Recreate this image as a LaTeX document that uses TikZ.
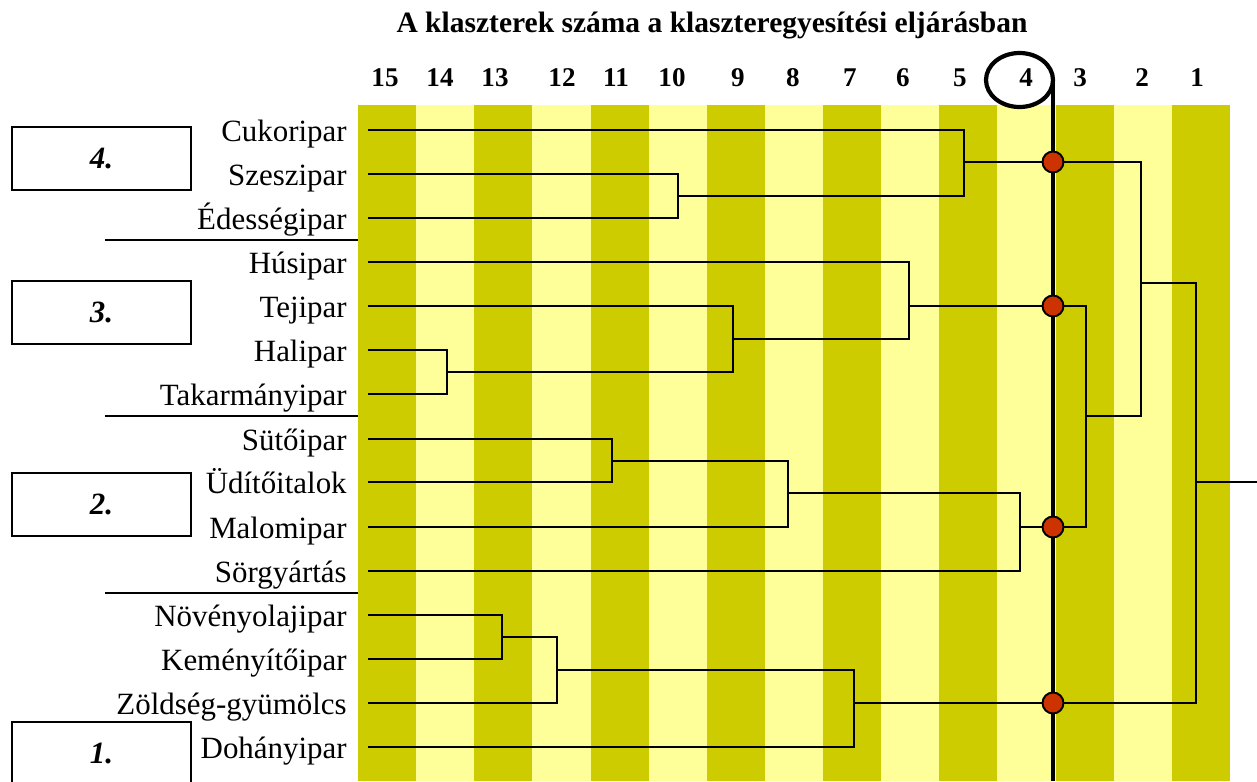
\documentclass[tikz,border=0pt]{standalone}
\usepackage{fontspec}
\setmainfont{Liberation Serif}
\usetikzlibrary{shapes.geometric}
\definecolor{stripedark}{RGB}{204,204,0}
\definecolor{stripelight}{RGB}{255,255,153}
\definecolor{dotred}{RGB}{204,51,0}
\tikzset{
  tree/.style={line width=1.3pt},
  cutline/.style={line width=2.4pt},
  leaflabel/.style={anchor=base east, inner sep=0pt, font=\fontsize{17.6}{20}\selectfont},
  colnum/.style={anchor=base, inner sep=0pt, font=\fontsize{15.4}{18}\selectfont\bfseries},
  groupbox/.style={draw, line width=1pt, minimum width=3.58cm, minimum height=1.26cm,
    inner sep=0pt, font=\fontsize{17.6}{20}\selectfont\bfseries\itshape},
  reddot/.style={circle, draw, fill=dotred, line width=1.1pt, minimum size=0.42cm, inner sep=0pt},
  divider/.style={line width=0.6pt}
}

\begin{document}
\begin{tikzpicture}[x=0.02cm, y=-0.02cm]
    \useasboundingbox (0,0) rectangle (1257,781);
    \clip (0,0) rectangle (1257,781);
    % Stripes
    \foreach \i in {0,...,14} {
        \ifodd\i \def\stripecol{stripelight}\else \def\stripecol{stripedark}\fi
        \fill[\stripecol] (358+58.13*\i,105) rectangle (358.5+58.13*\i+58.13,781);
    }
    % Title and cluster numbers
    \node[anchor=base, inner sep=0pt, font=\fontsize{16.8}{19}\selectfont\bfseries] (title) at (712,32)
        {A klaszterek száma a klaszteregyesítési eljárásban};
    \foreach \n/\x in {15/385,14/440,13/495,12/562,11/616,10/672,9/738,8/793,7/850,6/903,5/960,4/1026,3/1080,2/1142,1/1197}
        \node[colnum] (num\n) at (\x,86) {\n};
    % Leaves
    \foreach \name/\txt/\y in {cukor/Cukoripar/130, szesz/Szeszipar/174, edes/Édességipar/218,
        hus/Húsipar/262, tej/Tejipar/306, hal/Halipar/350, takar/Takarmányipar/394,
        suto/Sütőipar/439, udito/Üdítőitalok/482, malom/Malomipar/527, sor/Sörgyártás/571,
        noveny/Növényolajipar/615, kemeny/Keményítőipar/659, zold/Zöldség-gyümölcs/703, dohany/Dohányipar/747} {
        \coordinate (\name) at (368,\y);
        \node[leaflabel] (l\name) at (347,\y+11) {\txt};
    }
    % Joins
    \coordinate (jSzE) at (678,196);
    \coordinate (jCuk) at (964,162);
    \coordinate (jHT) at (447,372);
    \coordinate (jTej) at (733,339);
    \coordinate (jHus) at (909,306);
    \coordinate (jSU) at (612,461);
    \coordinate (jMal) at (788,493);
    \coordinate (jSor) at (1020,527);
    \coordinate (jNK) at (502,637);
    \coordinate (jZold) at (557,670);
    \coordinate (jDoh) at (854,703);
    \coordinate (jB) at (1086,416);
    \coordinate (jC) at (1141,283);
    \coordinate (jRoot) at (1196,482);
    \coordinate (rootend) at (1257,482);
    \coordinate (cutbot) at (1053,781);
    % Dendrogram
    \draw[tree] (szesz) -| (jSzE) |- (edes);
    \draw[tree] (cukor) -| (jCuk) |- (jSzE);
    \draw[tree] (hal) -| (jHT) |- (takar);
    \draw[tree] (tej) -| (jTej) |- (jHT);
    \draw[tree] (hus) -| (jHus) |- (jTej);
    \draw[tree] (suto) -| (jSU) |- (udito);
    \draw[tree] (jSU) -| (jMal) |- (malom);
    \draw[tree] (jMal) -| (jSor) |- (sor);
    \draw[tree] (noveny) -| (jNK) |- (kemeny);
    \draw[tree] (jNK) -| (jZold) |- (zold);
    \draw[tree] (jZold) -| (jDoh) |- (dohany);
    \draw[tree] (jHus) -| (jB) |- (jSor);
    \draw[tree] (jCuk) -| (jC) |- (jB);
    \draw[tree] (jC) -| (jRoot) |- (jDoh);
    \draw[tree] (jRoot) -- (rootend);
    % Cut at four clusters
    \node[ellipse, draw, cutline, minimum width=1.34cm, minimum height=1.08cm, inner sep=0pt, outer sep=0pt]
        (sel) at (1019.5,80) {};
    \draw[cutline] (sel.east) -- (sel.east |- cutbot);
    \foreach \k/\y in {4/162,3/306,2/527,1/703}
        \node[reddot] (dot\k) at (1053,\y) {};
    % Cluster boxes
    \node[groupbox] (box4) at (101.5,158.5) {4.};
    \node[groupbox] (box3) at (101.5,312.5) {3.};
    \node[groupbox] (box2) at (101.5,504.5) {2.};
    \node[groupbox] (box1) at (101.5,753.5) {1.};
    \foreach \y in {240,416,593}
        \draw[divider] (105,\y) -- (358,\y);
\end{tikzpicture}
\end{document}
